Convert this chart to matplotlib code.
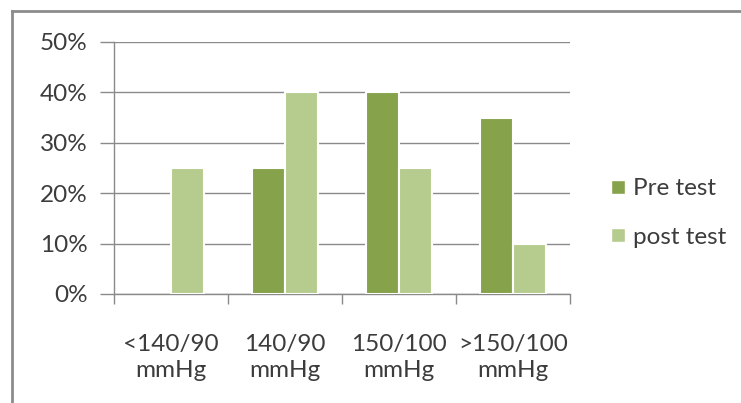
import matplotlib
matplotlib.use("Agg")
import matplotlib.pyplot as plt
import numpy as np
from matplotlib.lines import Line2D

categories = ["<140/90\nmmHg", "140/90\nmmHg", "150/100\nmmHg", ">150/100\nmmHg"]
pre_test = [0, 25, 40, 35]
post_test = [25, 40, 25, 10]
y_ticks = [0, 10, 20, 30, 40, 50]
y_tick_labels = ["0%", "10%", "20%", "30%", "40%", "50%"]
series_names = ["Pre test", "post test"]

plt.rcParams['font.family'] = ['Lato', 'DejaVu Sans']

fig = plt.figure(figsize=(7.41, 4.03), dpi=100)
fig.patch.set_facecolor("white")
ax = fig.add_axes([114/741, 1-294/403, (570-114)/741, (294-42)/403])

x = np.arange(len(categories))
w = 0.285
off = 0.145
c_pre = "#86a24a"
c_post = "#b6cc8e"
grid_c = "#8a8a8a"
txt_c = "#3c3c3c"
fs = 17.5

def nz(vals):
    return [v if v != 0 else np.nan for v in vals]

ax.bar(x - off, nz(pre_test), width=w, color=c_pre, edgecolor="white", linewidth=1.5, zorder=3)
ax.bar(x + off, nz(post_test), width=w, color=c_post, edgecolor="white", linewidth=1.5, zorder=3)

ax.set_xlim(-0.5, len(categories) - 0.5)
ax.set_ylim(0, 50)
ax.set_yticks(y_ticks)
ax.set_yticklabels(y_tick_labels, fontsize=fs, color=txt_c)
ax.yaxis.grid(True, color=grid_c, linewidth=1.0, zorder=0)
ax.tick_params(axis="y", length=10, color=grid_c, width=1.0, pad=9)

ax.set_xticks(np.arange(-0.5, len(categories), 1.0))
ax.set_xticklabels([])
ax.tick_params(axis="x", length=7, color=grid_c, width=1.0)
ax.set_xticks(x, minor=True)
ax.set_xticklabels(categories, minor=True, fontsize=fs, color=txt_c, linespacing=1.3)
ax.tick_params(axis="x", which="minor", length=0, pad=29)

for s in ["top", "right"]:
    ax.spines[s].set_visible(False)
for s in ["left", "bottom"]:
    ax.spines[s].set_color(grid_c)
    ax.spines[s].set_linewidth(1.0)

handles = [Line2D([], [], marker="s", linestyle="none", markersize=10, markerfacecolor=c_pre, markeredgecolor="white"),
           Line2D([], [], marker="s", linestyle="none", markersize=10, markerfacecolor=c_post, markeredgecolor="white")]
fig.legend(handles, series_names, loc="center left", bbox_to_anchor=(586/741, 1-213/403),
           frameon=False, fontsize=fs, labelspacing=1.15, handletextpad=0.25, handlelength=0.8,
           labelcolor=txt_c)

# outer frame (top and left visible)
fig.add_artist(Line2D([12/741, 1.0], [1-11/403, 1-11/403], transform=fig.transFigure, color="#8c8c8c", linewidth=2.0))
fig.add_artist(Line2D([12/741, 12/741], [0, 1-11/403], transform=fig.transFigure, color="#8c8c8c", linewidth=2.0))

fig.savefig("out.png", dpi=100, facecolor="white")
